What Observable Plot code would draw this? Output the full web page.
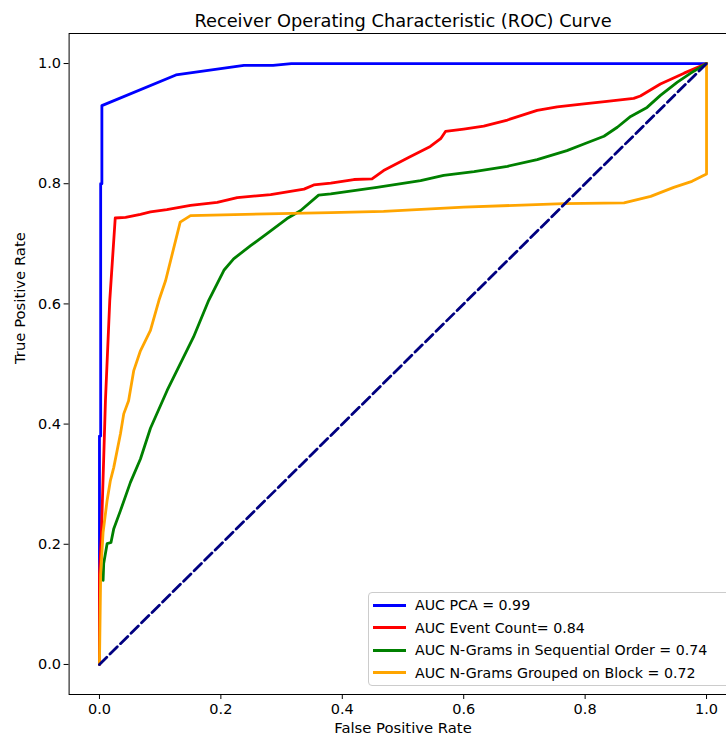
<!DOCTYPE html>
<html>
<head>
<meta charset="utf-8">
<script src="https://cdn.jsdelivr.net/npm/d3@7"></script>
<script src="https://cdn.jsdelivr.net/npm/@observablehq/plot@0.6"></script>
<style>
  html, body { margin: 0; padding: 0; background: #fff; overflow: hidden; }
  #wrap { position: relative; width: 726px; height: 742px; overflow: hidden; }
  #chart { width: 737px; }
  #chart svg { max-width: none !important; width: 737px; height: 742px; display: block; }
  #legend { position: absolute; left: 368px; top: 592px; width: 368px; height: 94px;
    border: 1px solid #cccccc; border-radius: 4px; background: rgba(255,255,255,0.8);
    font-family: "DejaVu Sans", sans-serif; font-size: 14.2px; color: #000; box-sizing: border-box; }
  .item { position: absolute; left: 0; height: 20px; white-space: nowrap; }
  .item .sw { position: absolute; left: 4px; width: 33px; height: 3px; top: -1.5px; }
  .item .lab { position: absolute; left: 46px; top: -9px; line-height: 18px; }
</style>
</head>
<body>
<div id="wrap"><div id="chart"></div><div id="legend"></div></div>
<script>
// Series names and colors
const seriesNames = ["AUC PCA = 0.99", "AUC Event Count= 0.84", "AUC N-Grams in Sequential Order = 0.74", "AUC N-Grams Grouped on Block = 0.72"];
const seriesColors = ["#0000ff", "#ff0000", "#008000", "#ffa500"];

// PCA
const pcaFpr = [0, 0, 0.002, 0.002, 0.004, 0.004, 0.126, 0.238, 0.286, 0.316, 1.0];
const pcaTpr = [0, 0.38, 0.38, 0.80, 0.80, 0.930, 0.981, 0.997, 0.997, 1.0, 1.0];

// Event Count
const evFpr = [0, 0, 0.003, 0.0099, 0.017, 0.026, 0.043, 0.0675, 0.084, 0.111, 0.150, 0.194, 0.227, 0.282, 0.337, 0.353, 0.381, 0.419, 0.449, 0.468, 0.510, 0.545, 0.562, 0.570, 0.600, 0.633, 0.672, 0.721, 0.754, 0.798, 0.836, 0.880, 0.891, 0.924, 0.963, 1.0];
const evTpr = [0, 0.15, 0.21, 0.44, 0.606, 0.743, 0.744, 0.749, 0.753, 0.757, 0.764, 0.769, 0.777, 0.782, 0.791, 0.798, 0.801, 0.807, 0.808, 0.822, 0.844, 0.862, 0.875, 0.887, 0.891, 0.896, 0.906, 0.922, 0.928, 0.933, 0.937, 0.942, 0.946, 0.966, 0.984, 1.0];

// N-Grams in Sequential Order
const seqFpr = [0.006, 0.007, 0.0126, 0.019, 0.0236, 0.0346, 0.051, 0.0675, 0.084, 0.1115, 0.155, 0.180, 0.205, 0.221, 0.249, 0.276, 0.309, 0.331, 0.361, 0.381, 0.457, 0.529, 0.567, 0.617, 0.672, 0.721, 0.770, 0.798, 0.831, 0.853, 0.875, 0.902, 0.924, 0.952, 0.974, 1.0];
const seqTpr = [0.14, 0.168, 0.201, 0.203, 0.226, 0.256, 0.303, 0.342, 0.393, 0.456, 0.545, 0.606, 0.656, 0.675, 0.697, 0.717, 0.742, 0.755, 0.781, 0.783, 0.794, 0.805, 0.814, 0.820, 0.829, 0.840, 0.855, 0.866, 0.879, 0.894, 0.912, 0.927, 0.947, 0.969, 0.984, 1.0];

// N-Grams Grouped on Block
const blkFpr = [0, 0.002, 0.006, 0.0126, 0.018, 0.0236, 0.0346, 0.040, 0.048, 0.0565, 0.0675, 0.084, 0.098, 0.109, 0.133, 0.150, 0.381, 0.468, 0.600, 0.765, 0.864, 0.908, 0.946, 0.976, 1.0, 1.0];
const blkTpr = [0, 0.15, 0.22, 0.273, 0.306, 0.328, 0.384, 0.417, 0.439, 0.489, 0.522, 0.556, 0.606, 0.639, 0.736, 0.747, 0.752, 0.754, 0.761, 0.767, 0.768, 0.779, 0.794, 0.804, 0.816, 1.0];

const xTicks = [0, 0.2, 0.4, 0.6, 0.8, 1.0];
const yTicks = [0, 0.2, 0.4, 0.6, 0.8, 1.0];

const fprs = [pcaFpr, evFpr, seqFpr, blkFpr];
const tprs = [pcaTpr, evTpr, seqTpr, blkTpr];
const rows = [];
seriesNames.forEach((name, i) => fprs[i].forEach((f, j) => rows.push({series: name, fpr: f, tpr: tprs[i][j]})));
const diag = [{fpr: 0, tpr: 0}, {fpr: 1, tpr: 1}];

const font = "DejaVu Sans, sans-serif";
const chart = Plot.plot({
  width: 737,
  height: 742,
  marginLeft: 68.6,
  marginRight: 0.6,
  marginTop: 33,
  marginBottom: 48,
  style: {fontFamily: font, fontSize: "14.5px", color: "#000", background: "#fff", overflow: "visible"},
  x: {domain: [-0.05, 1.05]},
  y: {domain: [-0.05, 1.05]},
  color: {domain: seriesNames, range: seriesColors},
  marks: [
    Plot.line(rows, {x: "fpr", y: "tpr", z: "series", stroke: "series", strokeWidth: 2.8, curve: "linear"}),
    Plot.line(diag, {x: "fpr", y: "tpr", stroke: "#000080", strokeWidth: 2.8, strokeDasharray: "10.3,4.5"}),
    Plot.frame({stroke: "#000", strokeWidth: 1}),
    Plot.axisX({ticks: xTicks, tickFormat: d3.format(".1f"), tickSize: 5, tickPadding: 4, label: null, fontSize: 14.5, stroke: "#000"}),
    Plot.axisY({ticks: yTicks, tickFormat: d3.format(".1f"), tickSize: 5, tickPadding: 3, label: null, fontSize: 14.5, stroke: "#000"}),
    Plot.text(["Receiver Operating Characteristic (ROC) Curve"], {frameAnchor: "top", dy: -19, text: d => d, fontSize: 17.8, fill: "#000"}),
    Plot.text(["False Positive Rate"], {frameAnchor: "bottom", dy: 38, text: d => d, fontSize: 14.8, fill: "#000"}),
    Plot.text(["True Positive Rate"], {frameAnchor: "left", dx: -49, rotate: -90, text: d => d, fontSize: 14.8, fill: "#000"})
  ]
});
document.getElementById("chart").appendChild(chart);

const legend = document.getElementById("legend");
const itemTops = [12, 34.5, 57, 79.5];
seriesNames.forEach((name, i) => {
  const it = document.createElement("div");
  it.className = "item";
  it.style.top = itemTops[i] + "px";
  it.innerHTML = `<div class="sw" style="background:${seriesColors[i]}"></div><div class="lab">${name}</div>`;
  legend.appendChild(it);
});
</script>
</body>
</html>
